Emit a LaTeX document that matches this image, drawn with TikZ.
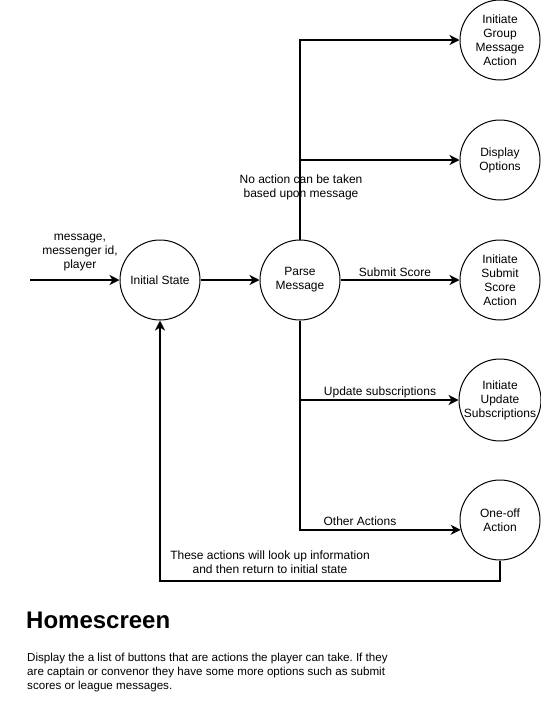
\documentclass[tikz,border=0pt]{standalone}
\usepackage{fontspec}
\setmainfont{Liberation Sans}
\usepackage{xcolor}
\usepackage{tikz}
\usetikzlibrary{arrows.meta}
\definecolor{dline}{HTML}{000000}
\definecolor{dtext}{HTML}{000000}
\frenchspacing

\begin{document}
\begin{tikzpicture}[x=1pt, y=-1pt,
  state/.style={circle, draw=dline, line width=1pt, minimum size=80pt, inner sep=0pt,
    align=center, font=\fontsize{12}{14}\selectfont, text=dtext},
  flow/.style={draw=dline, line width=2pt, -{Stealth[length=10pt, width=10pt, inset=3pt]}},
  lbl/.style={font=\fontsize{12}{14}\selectfont, align=center, text=dtext, inner sep=0pt}]
\fill[white] (0,0) rectangle (541,721);
\useasboundingbox (0,0) rectangle (541,721);
\node[state] (init) at (160,280) {Initial State};
\node[state] (parse) at (300,280) {Parse\\Message};
\node[state] (group) at (500,40) {Initiate\\Group\\Message\\Action};
\node[state] (display) at (500,160) {Display\\Options};
\node[state] (submit) at (500,280) {Initiate\\Submit\\Score\\Action};
\node[state] (update) at (500,400) {Initiate\\Update\\Subscriptions};
\node[state] (oneoff) at (500,520) {One-off\\Action};
\coordinate (src) at (30,280);
\node[lbl] (inlbl) at (80,253) {message,\\messenger id,\\player};
\node[lbl] (nolbl) at (301,187.5) {No action can be taken\\based upon message};
\node[lbl] (sublbl) at (395,272) {Submit Score};
\node[lbl] (updlbl) at (380,392) {Update subscriptions};
\node[lbl] (othlbl) at (360,521) {Other Actions};
\node[lbl] (retlbl) at (270,562) {These actions will look up information\\and then return to initial state};
\draw[flow] (src) -- (init.west);
\draw[flow] (init.east) -- (parse.west);
\draw[flow] (parse.north) |- (group.west);
\draw[flow] (parse.north) |- (display.west);
\draw[flow] (parse.east) -- (submit.west);
\draw[flow] (parse.south) |- (update.west);
\draw[flow] (parse.south) |- (oneoff.194.5);
\draw[flow] (oneoff.south) -- ++(0,20) -| (init.south);
\node[anchor=base west, inner sep=0pt, text=dtext, font=\fontsize{24}{28}\selectfont\bfseries]
  (title) at (26,628) {Homescreen};
\node[anchor=north west, inner sep=0pt, align=left, text=dtext, font=\fontsize{11.6}{14}\selectfont]
  (body) at (27,652.5) {Display the a list of buttons that are actions the player can take. If they\\are captain or convenor they have some more options such as submit\\scores or league messages.};
\end{tikzpicture}
\end{document}
